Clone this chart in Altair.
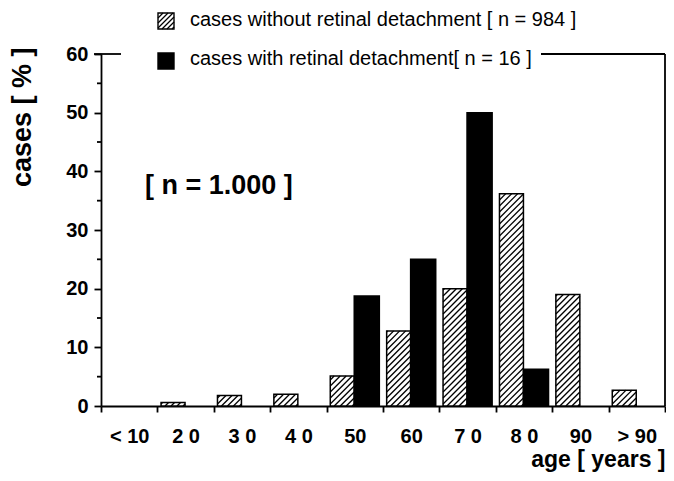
import json
import altair as alt
import pandas as pd

# ---------------- data ----------------
categories = ["< 10", "2 0", "3 0", "4 0", "50", "60", "7 0", "8 0", "90", "> 90"]
without_rd = [0.0, 0.6, 1.8, 2.0, 5.1, 12.8, 20.0, 36.2, 19.0, 2.7]
with_rd = [0.0, 0.0, 0.0, 0.0, 18.75, 25.0, 50.0, 6.25, 0.0, 0.0]
series_names = ["without", "with"]
legend_labels = ["cases without retinal detachment  [ n = 984 ]",
                 "cases with retinal detachment[ n = 16 ]"]
annotation = ["[ n = 1.000 ]"]
y_title = "cases  [ % ]"
x_title = "age [ years ]"
y_max = 60
y_major = 10
y_minor = 5

# ---------------- layout / style ----------------
W, H = 564, 352
FONT = "Liberation Sans"
NB = len(categories)
SX = W / NB
SY = H / y_max
HL, HM, HR = 0.065, 0.49, 0.935   # bar edges inside a bin
STEP = 6.0                         # hatch spacing (px)
LW = 1.8

rows = []
for i, c in enumerate(categories):
    rows.append({"i": i, "series": "without", "v": without_rd[i]})
    rows.append({"i": i, "series": "with", "v": with_rd[i]})
df = pd.DataFrame(rows)

minor_df = pd.DataFrame({"m": [t for t in range(0, y_max + 1, y_minor) if t % y_major]})

xscale = alt.Scale(domain=[0, NB], nice=False, zero=False)
yscale = alt.Scale(domain=[0, y_max], nice=False, zero=True)
fill_scale = alt.Scale(domain=series_names, range=["white", "black"])

x_axis = alt.Axis(
    values=list(range(NB + 1)),
    labelExpr=f"datum.value < {NB} ? {json.dumps(categories)}[datum.value] : ''",
    labelOffset=SX / 2, tickSize=6,
    labelOverlap=False, labelBound=False, labelFlush=False,
    labelFont=FONT, labelFontSize=20, labelFontWeight="bold", labelColor="black",
    labelPadding=14, labelAngle=0,
    domainColor="black", domainWidth=LW, tickColor="black", tickWidth=LW,
    grid=False,
    title=x_title, titleFont=FONT, titleFontSize=23, titleFontWeight="bold",
    titleColor="black", titleAnchor="end", titleAlign="right", titlePadding=2,
)
y_axis = alt.Axis(
    values=list(range(0, y_max + 1, y_major)),
    tickSize=7,
    labelFont=FONT, labelFontSize=20, labelFontWeight="bold", labelColor="black",
    labelPadding=6,
    domainColor="black", domainWidth=LW, tickColor="black", tickWidth=LW,
    grid=False,
    title=y_title, titleFont=FONT, titleFontSize=27, titleFontWeight="bold",
    titleColor="black", titleAnchor="end", titlePadding=29, titleY=-7,
)


def X(field):
    return alt.X(field, type="quantitative", scale=xscale, axis=x_axis)


def Y(field):
    return alt.Y(field, type="quantitative", scale=yscale, axis=y_axis)


bars = alt.Chart(df).transform_filter("datum.v > 0").transform_calculate(
    xa=f"datum.i + (datum.series === 'without' ? {HL} : {HM})"
).transform_calculate(
    xb=f"datum.i + (datum.series === 'without' ? {HM} : {HR})"
).transform_calculate(
    y0="0"
).mark_rect(stroke="black", strokeWidth=1.5).encode(
    x=X("xa"), x2="xb:Q", y=Y("v"), y2="y0:Q",
    fill=alt.Fill("series:N", scale=fill_scale, legend=None),
)

hatch = alt.Chart(df).transform_filter(
    "datum.series === 'without' && datum.v > 0"
).transform_calculate(
    w=f"{(HM - HL) * SX}"
).transform_calculate(
    h=f"datum.v * {SY}"
).transform_calculate(
    k="sequence(0, 60)"
).transform_flatten(["k"]).transform_calculate(
    c=f"-datum.w + {STEP} * datum.k + 2"
).transform_calculate(
    u0="max(0, -datum.c)"
).transform_calculate(
    u1="min(datum.w, datum.h - datum.c)"
).transform_filter("datum.u1 > datum.u0 + 0.8").transform_calculate(
    hx0=f"datum.i + {HL} + datum.u0 / {SX}"
).transform_calculate(
    hx1=f"datum.i + {HL} + datum.u1 / {SX}"
).transform_calculate(
    hy0=f"(datum.u0 + datum.c) / {SY}"
).transform_calculate(
    hy1=f"(datum.u1 + datum.c) / {SY}"
).mark_rule(color="black", strokeWidth=1.3).encode(
    x=X("hx0"), x2="hx1:Q", y=Y("hy0"), y2="hy1:Q",
)

# minor ticks of the y axis (between the labelled ones)
minor_ticks = alt.Chart(minor_df).mark_rule(color="black", strokeWidth=LW).encode(
    x=alt.value(-4), x2=alt.value(0), y=Y("m"),
)

# frame: right side and the two pieces of the top line around the legend
frame_right = alt.Chart().mark_rule(color="black", strokeWidth=LW).encode(
    x=alt.value(W), y=alt.value(0), y2=alt.value(H))
frame_top_l = alt.Chart().mark_rule(color="black", strokeWidth=LW).encode(
    x=alt.value(-7), x2=alt.value(20), y=alt.value(0))
frame_top_r = alt.Chart().mark_rule(color="black", strokeWidth=LW).encode(
    x=alt.value(440), x2=alt.value(W), y=alt.value(0))

# legend (pixel offsets from the plot's top-left corner, turned into data units)
LX, LS, LY, LDY = 57, 16, -41, 40
TX, TY, TDY = 89, -34, 39
leg_df = pd.DataFrame({"row": [0, 1], "series": series_names, "label": legend_labels})
leg_boxes = alt.Chart(leg_df).transform_calculate(
    bx0=f"{LX / SX}"
).transform_calculate(
    bx1=f"{(LX + LS) / SX}"
).transform_calculate(
    by0=f"{y_max} - ({LY} + datum.row * {LDY}) / {SY}"
).transform_calculate(
    by1=f"datum.by0 - {LS / SY}"
).mark_rect(stroke="black", strokeWidth=1.4).encode(
    x=X("bx0"), x2="bx1:Q", y=Y("by0"), y2="by1:Q",
    fill=alt.Fill("series:N", scale=fill_scale, legend=None),
)
leg_hatch = alt.Chart(leg_df).transform_filter("datum.row === 0").transform_calculate(
    k="sequence(0, 12)"
).transform_flatten(["k"]).transform_calculate(
    c=f"-{LS} + 5 * datum.k + 2"
).transform_calculate(
    u0="max(0, -datum.c)"
).transform_calculate(
    u1=f"min({LS}, {LS} - datum.c)"
).transform_filter("datum.u1 > datum.u0 + 0.8").transform_calculate(
    px0=f"({LX} + datum.u0) / {SX}"
).transform_calculate(
    px1=f"({LX} + datum.u1) / {SX}"
).transform_calculate(
    py0=f"{y_max} - ({LY} + {LS} - (datum.u0 + datum.c)) / {SY}"
).transform_calculate(
    py1=f"{y_max} - ({LY} + {LS} - (datum.u1 + datum.c)) / {SY}"
).mark_rule(color="black", strokeWidth=1.3).encode(
    x=X("px0"), x2="px1:Q", y=Y("py0"), y2="py1:Q",
)
leg_text = alt.Chart(leg_df).transform_calculate(
    tx=f"{TX / SX}"
).transform_calculate(
    ty=f"{y_max} - ({TY} + datum.row * {TDY}) / {SY}"
).mark_text(align="left", baseline="middle", font=FONT, fontSize=20, color="black").encode(
    x=X("tx"), y=Y("ty"), text="label:N",
)

note = alt.Chart(pd.DataFrame({"t": annotation})).mark_text(
    align="left", baseline="middle", font=FONT, fontSize=27, fontWeight="bold", color="black"
).encode(x=alt.value(44), y=alt.value(132), text="t:N")

chart = alt.layer(
    bars, hatch, minor_ticks, frame_right, frame_top_l, frame_top_r,
    leg_boxes, leg_hatch, leg_text, note,
).properties(
    width=W, height=H,
    autosize=alt.AutoSizeParams(type="none"),
    padding={"left": 93, "top": 46, "right": 1, "bottom": 67},
    background="white",
).configure_view(stroke=None)

chart.save("out.html", embed_options={"renderer": "svg", "actions": False})
